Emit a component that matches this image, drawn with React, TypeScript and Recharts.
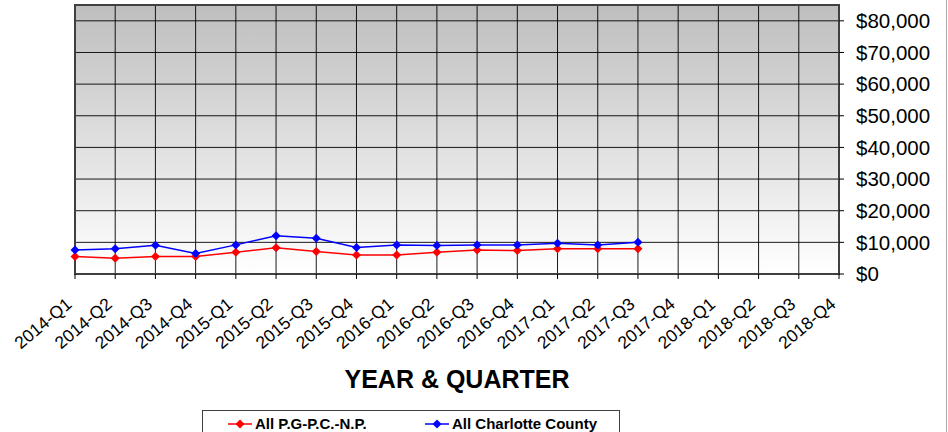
import { LineChart, Line, XAxis, YAxis, CartesianGrid, ReferenceArea } from "recharts"

const FONT = "'Liberation Sans', Arial, sans-serif"

// Categories (x axis)
const quarters = [
  "2014-Q1", "2014-Q2", "2014-Q3", "2014-Q4",
  "2015-Q1", "2015-Q2", "2015-Q3", "2015-Q4",
  "2016-Q1", "2016-Q2", "2016-Q3", "2016-Q4",
  "2017-Q1", "2017-Q2", "2017-Q3", "2017-Q4",
  "2018-Q1", "2018-Q2", "2018-Q3", "2018-Q4",
]

// Series values (only up to 2017-Q3)
const pgpcnp = [5500, 5000, 5500, 5500, 6900, 8300, 7100, 6000, 6000, 6900, 7600, 7400, 8000, 8000, 8000]
const charlotte = [7600, 8000, 9100, 6500, 9200, 12100, 11300, 8400, 9200, 9000, 9200, 9200, 9700, 9200, 10000]

const yTicks = [0, 10000, 20000, 30000, 40000, 50000, 60000, 70000, 80000]

const data = quarters.map((q, i) => ({
  quarter: q,
  pg: i < pgpcnp.length ? pgpcnp[i] : null,
  cc: i < charlotte.length ? charlotte[i] : null,
}))

// diamond marker
const diamond = (color: string) => (props: any) => {
  const { cx, cy, index } = props
  if (cx == null || cy == null || props.value == null) return <g key={`d-${index}`} />
  const r = 4.5
  return (
    <path
      key={`d-${index}`}
      d={`M${cx},${cy - r}L${cx + r},${cy}L${cx},${cy + r}L${cx - r},${cy}Z`}
      fill={color}
    />
  )
}

const XTick = (props: any) => {
  const { x, y, payload } = props
  const ax = x - 2
  const ay = y + 25
  return (
    <text
      x={ax}
      y={ay}
      transform={`rotate(-40 ${ax} ${ay})`}
      textAnchor="end"
      fontSize={17.5}
      fontFamily={FONT}
      fill="#000"
    >
      {payload.value}
    </text>
  )
}

const LegendMark = ({ color }: { color: string }) => (
  <svg width={24} height={12} style={{ marginRight: 3 }}>
    <line x1={0} y1={6} x2={24} y2={6} stroke={color} strokeWidth={1.5} />
    <path d="M12,1.5L16.5,6L12,10.5L7.5,6Z" fill={color} />
  </svg>
)

export default function App() {
  return (
    <div
      style={{
        position: "absolute",
        left: 0,
        top: 0,
        width: 948,
        height: 432,
        overflow: "hidden",
        background: "#fff",
        fontFamily: FONT,
      }}
    >
      <LineChart width={948} height={432} data={data} margin={{ top: 5, right: 0, bottom: 0, left: 75 }}>
        <defs>
          <linearGradient id="plotBg" x1="0" y1="0" x2="0" y2="1">
            <stop offset="0%" stopColor="#bebebe" />
            <stop offset="100%" stopColor="#ffffff" />
          </linearGradient>
        </defs>
        <CartesianGrid fill="url(#plotBg)" stroke="#000" strokeWidth={1} strokeOpacity={0.9} />
        <XAxis
          dataKey="quarter"
          interval={0}
          height={158}
          tickSize={5}
          tickLine={{ stroke: "#000" }}
          axisLine={{ stroke: "#404040", strokeWidth: 2 }}
          tick={<XTick />}
          label={{
            value: "YEAR & QUARTER",
            position: "insideBottom",
            offset: 44,
            fontSize: 25,
            fontWeight: "bold",
            fill: "#000",
            fontFamily: FONT,
          }}
        />
        <YAxis
          orientation="right"
          width={109}
          domain={[0, 85000]}
          ticks={yTicks}
          interval={0}
          tickSize={5}
          tickMargin={12}
          axisLine={false}
          tickLine={{ stroke: "#000" }}
          tick={{ fontSize: 20.5, fill: "#000", fontFamily: FONT }}
          tickFormatter={(v: number) => `$${v.toLocaleString("en-US")}`}
        />
        <ReferenceArea
          x1="2014-Q1"
          x2="2018-Q4"
          y1={0}
          y2={85000}
          fill="none"
          stroke="#404040"
          strokeWidth={2}
          ifOverflow="visible"
        />
        <Line
          dataKey="pg"
          name="All P.G-P.C.-N.P."
          stroke="#ff0000"
          strokeWidth={1.5}
          dot={diamond("#ff0000")}
          activeDot={false}
          isAnimationActive={false}
        />
        <Line
          dataKey="cc"
          name="All Charlotte County"
          stroke="#0000ff"
          strokeWidth={1.5}
          dot={diamond("#0000ff")}
          activeDot={false}
          isAnimationActive={false}
        />
      </LineChart>

      {/* legend box */}
      <div
        style={{
          position: "absolute",
          left: 202,
          top: 410,
          width: 418,
          height: 30,
          border: "1px solid #404040",
          background: "#fff",
          boxSizing: "border-box",
        }}
      >
        <div style={{ position: "absolute", left: 25, top: 4, display: "flex", alignItems: "center" }}>
          <LegendMark color="#ff0000" />
          <span style={{ fontSize: 15, fontWeight: "bold" }}>All P.G-P.C.-N.P.</span>
        </div>
        <div style={{ position: "absolute", left: 222, top: 4, display: "flex", alignItems: "center" }}>
          <LegendMark color="#0000ff" />
          <span style={{ fontSize: 15, fontWeight: "bold" }}>All Charlotte County</span>
        </div>
      </div>

      {/* outer frame edge on the right */}
      <div style={{ position: "absolute", left: 946, top: 0, width: 1, height: 432, background: "#a8a8a8" }} />
    </div>
  )
}
